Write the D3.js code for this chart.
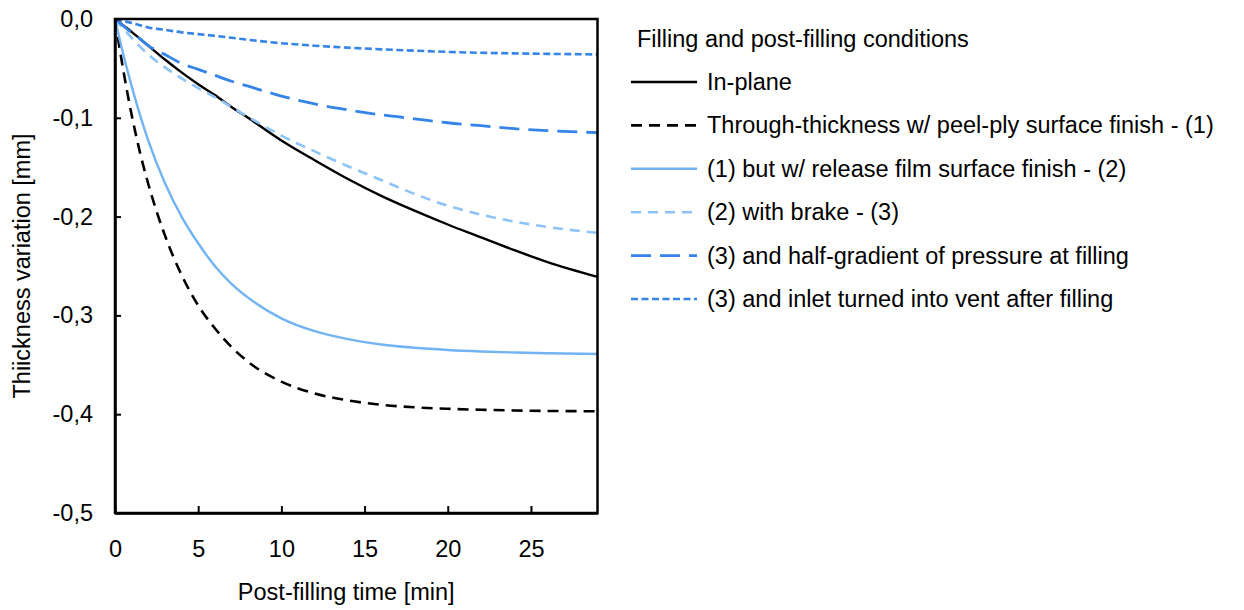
<!DOCTYPE html>
<html>
<head>
<meta charset="utf-8">
<script src="https://cdn.jsdelivr.net/npm/d3@7"></script>
<style>
  html, body { margin: 0; padding: 0; background: #fff; }
  svg { display: block; font-family: "Liberation Sans", Arial, sans-serif; }
</style>
</head>
<body>
<svg id="chart" width="1244" height="610"></svg>
<script>
// Post-filling time samples [min]
const times = [0, 0.5, 1, 1.5, 2, 3, 4, 5, 6, 7, 8, 10, 12, 14, 16, 18, 20, 22, 24, 26, 29];

// Thickness variation [mm] for each filling / post-filling condition
const inPlane = [0, -0.0065, -0.013, -0.02, -0.027, -0.041, -0.054, -0.066, -0.077, -0.089, -0.1, -0.123, -0.143, -0.162, -0.179, -0.194, -0.208, -0.221, -0.234, -0.246, -0.261];
const peelPly = [0, -0.052, -0.097, -0.135, -0.167, -0.219, -0.259, -0.29, -0.313, -0.332, -0.347, -0.367, -0.379, -0.386, -0.3905, -0.393, -0.3945, -0.3955, -0.3962, -0.3967, -0.397];
const releaseFilm = [0, -0.036, -0.068, -0.097, -0.123, -0.166, -0.2, -0.227, -0.25, -0.268, -0.282, -0.303, -0.316, -0.324, -0.3295, -0.3328, -0.335, -0.3365, -0.3375, -0.3383, -0.339];
const withBrake = [0, -0.01, -0.019, -0.028, -0.036, -0.049, -0.06, -0.07, -0.079, -0.089, -0.099, -0.118, -0.134, -0.149, -0.163, -0.177, -0.189, -0.198, -0.205, -0.2105, -0.2165];
const halfGradient = [0, -0.007, -0.014, -0.02, -0.027, -0.036, -0.045, -0.051, -0.057, -0.063, -0.068, -0.078, -0.086, -0.092, -0.097, -0.101, -0.105, -0.108, -0.111, -0.113, -0.115];
const inletVent = [0, -0.002, -0.004, -0.0063, -0.0085, -0.011, -0.0135, -0.0153, -0.017, -0.019, -0.021, -0.0245, -0.027, -0.029, -0.0307, -0.032, -0.0333, -0.0342, -0.0348, -0.0353, -0.0358];

const seriesNames = [
  "In-plane",
  "Through-thickness w/ peel-ply surface finish - (1)",
  "(1) but w/ release film surface finish - (2)",
  "(2) with brake - (3)",
  "(3) and half-gradient of pressure at filling",
  "(3) and inlet turned into vent after filling"
];
const seriesValues = [inPlane, peelPly, releaseFilm, withBrake, halfGradient, inletVent];

const xTicks = [0, 5, 10, 15, 20, 25];
const yTicks = [0, -0.1, -0.2, -0.3, -0.4, -0.5];

const legendTitle = "Filling and post-filling conditions";
const xTitle = "Post-filling time [min]";
const yTitle = "Thiickness variation [mm]";

const fontSize = "23.5px";

// Line styles per condition
const styles = [
  { color: "#000000", width: 2.4, dash: null },
  { color: "#000000", width: 2.6, dash: "11,7" },
  { color: "#72b3f4", width: 2.4, dash: null },
  { color: "#8dc3f6", width: 2.6, dash: "10,7" },
  { color: "#3585e8", width: 2.8, dash: "20,9" },
  { color: "#3585e8", width: 2.6, dash: "7,3.5" }
];

const svg = d3.select("#chart");
const plot = { left: 115, right: 597.5, top: 19, bottom: 513 };

const x = d3.scaleLinear().domain([0, 29]).range([plot.left, plot.right]);
const y = d3.scaleLinear().domain([-0.5, 0]).range([plot.bottom, plot.top]);

const fmt = v => d3.format(".1f")(v).replace(".", ",").replace("−", "-");

// Curves
const line = d3.line()
  .x(d => x(d[0]))
  .y(d => y(d[1]))
  .curve(d3.curveMonotoneX);

const curves = svg.append("g").attr("class", "curves");
seriesValues.forEach((vals, i) => {
  const pts = times.map((t, k) => [t, vals[k]]);
  curves.append("path")
    .datum(pts)
    .attr("d", line)
    .attr("fill", "none")
    .attr("stroke", styles[i].color)
    .attr("stroke-width", styles[i].width)
    .attr("stroke-dasharray", styles[i].dash);
});

// Frame
svg.append("rect")
  .attr("x", plot.left).attr("y", plot.top)
  .attr("width", plot.right - plot.left).attr("height", plot.bottom - plot.top)
  .attr("fill", "none").attr("stroke", "#000").attr("stroke-width", 2.5);

// Axes with inward ticks
const yAxis = d3.axisLeft(y).tickValues(yTicks).tickFormat(fmt)
  .tickSizeInner(-6).tickSizeOuter(0).tickPadding(22);
const gy = svg.append("g").attr("transform", `translate(${plot.left},0)`).call(yAxis);

const xAxis = d3.axisBottom(x).tickValues(xTicks).tickFormat(d3.format("d"))
  .tickSizeInner(-7).tickSizeOuter(0).tickPadding(27);
const gx = svg.append("g").attr("transform", `translate(0,${plot.bottom})`).call(xAxis);

[gx, gy].forEach(g => {
  g.select(".domain").attr("stroke", "#000").attr("stroke-width", 2.5);
  g.selectAll(".tick line").attr("stroke", "#000").attr("stroke-width", 2);
  g.selectAll(".tick text")
    .attr("fill", "#000")
    .style("font-family", '"Liberation Sans", Arial, sans-serif')
    .style("font-size", fontSize);
});

// Axis titles
svg.append("text")
  .attr("x", (plot.left + plot.right) / 2 - 10).attr("y", 600)
  .attr("text-anchor", "middle")
  .style("font-size", fontSize)
  .text(xTitle);

svg.append("text")
  .attr("transform", `translate(30,${(plot.top + plot.bottom) / 2}) rotate(-90)`)
  .attr("text-anchor", "middle")
  .style("font-size", fontSize)
  .text(yTitle);

// Legend
const legend = svg.append("g").attr("class", "legend");
legend.append("text")
  .attr("x", 637).attr("y", 47)
  .style("font-size", fontSize)
  .text(legendTitle);

const rowY = d3.scaleLinear().domain([0, 5]).range([82, 299]);
seriesNames.forEach((name, i) => {
  const cy = rowY(i);
  legend.append("line")
    .attr("x1", 631).attr("x2", 697)
    .attr("y1", cy).attr("y2", cy)
    .attr("stroke", styles[i].color)
    .attr("stroke-width", styles[i].width)
    .attr("stroke-dasharray", styles[i].dash);
  legend.append("text")
    .attr("x", 707).attr("y", cy + 8)
    .style("font-size", fontSize)
    .text(name);
});
</script>
</body>
</html>
